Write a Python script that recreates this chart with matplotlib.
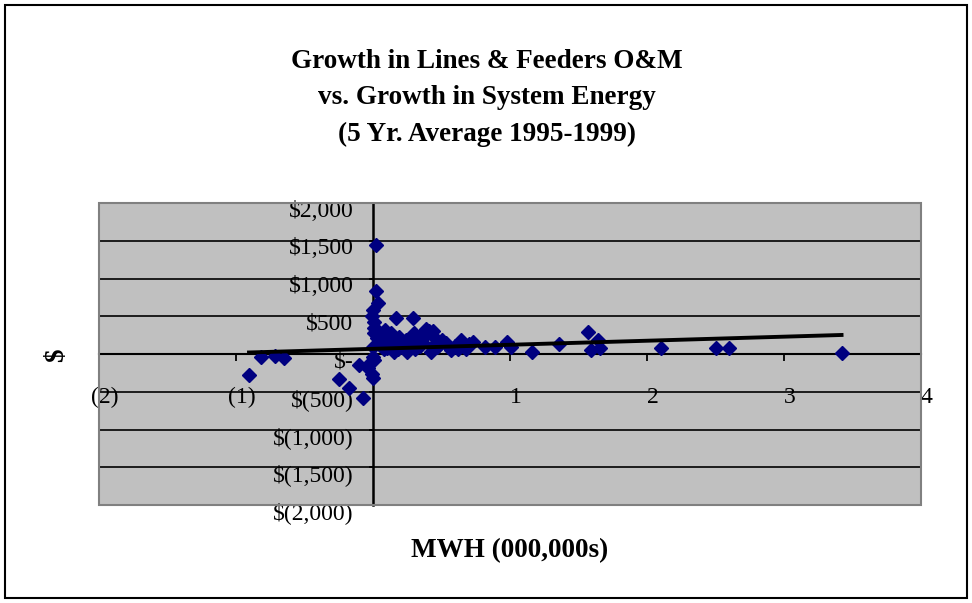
import matplotlib
matplotlib.use("Agg")
from matplotlib import pyplot as plt
from matplotlib.patches import Rectangle
from matplotlib.transforms import ScaledTranslation

# growth in system energy (MWH, 000,000s) vs growth in O&M ($)
mwh = [0.02, 0.02, 0.04, 0.00, -0.01, 0.01, 0.01, 0.01, 0.03, 0.04, 0.00,
       0.17, 0.29, 0.09, 0.13, 0.06, 0.30, 0.39, 0.44, 0.35, 0.20, 0.28,
       0.41, 0.50, 0.53, 0.64, 0.73, 0.15, 0.25, 0.42, 0.57, 0.82, 0.89,
       0.98, 1.01, 1.16, 1.36, 1.57, 1.64, 1.59, 1.66, 2.10, 2.50, 2.60,
       3.42, 0.05, 0.10, 0.22, 0.33, 0.47, 0.60, 0.68,
       0.04, 0.07, 0.12, 0.16, 0.19, 0.24, 0.27, 0.32, 0.36, 0.38, 0.45,
       0.08, 0.14, 0.18, 0.23, 0.31, 0.34, 0.43, 0.48, 0.55, 0.62, 0.70,
       -0.905, -0.82, -0.715, -0.65, -0.25, -0.175, -0.07, -0.10,
       -0.04, -0.01, 0.01, 0.00, -0.02, 0.00]
om = [1445, 835, 676, 583, 504, 424, 345, 278, 212, 146, 93,
      477, 477, 318, 278, 240, 278, 331, 305, 252, 186, 159,
      305, 186, 146, 186, 159, 27, 27, 27, 53, 93, 93,
      163, 93, 27, 133, 292, 186, 53, 80, 80, 80, 80,
      13, 120, 80, 100, 120, 90, 110, 60,
      300, 230, 200, 170, 220, 180, 130, 200, 160, 240, 210,
      60, 110, 70, 140, 60, 110, 90, 120, 100, 70, 130,
      -278, -40, -27, -53, -331, -451, -583, -146,
      -186, -265, -80, -40, -120, -320]

# linear trendline as drawn in the chart
trend_x = [-0.905, 3.42]
trend_y = [20, 252]

x_ticks = [-2, -1, 0, 1, 2, 3, 4]
x_labels = ["(2)", "(1)", "", "1", "2", "3", "4"]
y_ticks = [2000, 1500, 1000, 500, 0, -500, -1000, -1500, -2000]
y_labels = ["$2,000", "$1,500", "$1,000", "$500", "$-", "$(500)",
            "$(1,000)", "$(1,500)", "$(2,000)"]
title_lines = ["Growth in Lines & Feeders O&M",
               "vs. Growth in System Energy",
               "(5 Yr. Average 1995-1999)"]

plt.rcParams["font.family"] = ["Liberation Serif", "DejaVu Serif"]

fig = plt.figure(figsize=(9.72, 6.03), dpi=100)
fig.patches.append(Rectangle((5 / 972, 5 / 603), 962 / 972, 593 / 603,
                             transform=fig.transFigure, fill=False,
                             edgecolor="black", linewidth=1.5))

ax = fig.add_axes([99 / 972, 1 - 505 / 603, 822 / 972, 302 / 603])
ax.set_facecolor("#c0c0c0")
ax.set_xlim(-2, 4)
ax.set_ylim(-2000, 2000)

for s in ["top", "right"]:
    ax.spines[s].set_visible(False)
ax.spines["left"].set_position(("data", 0))
ax.spines["bottom"].set_position(("data", 0))
ax.spines["left"].set_linewidth(1.8)
ax.spines["bottom"].set_linewidth(1.5)
ax.add_patch(Rectangle((0, 0), 1, 1, transform=ax.transAxes, fill=False,
                       edgecolor="#808080", linewidth=1.5, zorder=5,
                       clip_on=False))

ax.set_axisbelow(True)
ax.yaxis.grid(True, color="black", linewidth=1.2)

ax.set_xticks(x_ticks)
ax.set_xticklabels(x_labels)
ax.set_yticks(y_ticks)
ax.set_yticklabels(y_labels)
ax.tick_params(axis="x", direction="out", length=5, width=1.3, pad=19,
               labelsize=17)
ax.tick_params(axis="y", direction="out", length=3, width=1.3, pad=11,
               labelsize=17)
# Excel draws the value labels a little below their gridline
shift = ScaledTranslation(0, -4 / 72, fig.dpi_scale_trans)
for lbl in ax.get_yticklabels():
    lbl.set_transform(lbl.get_transform() + shift)
shift_x = ScaledTranslation(4 / 72, 0, fig.dpi_scale_trans)
for lbl in ax.get_xticklabels():
    lbl.set_transform(lbl.get_transform() + shift_x)

ax.plot(mwh, om, linestyle="none", marker="D", markersize=7,
        color="#000080", zorder=3)
ax.plot(trend_x, trend_y, color="black", linewidth=2.8, zorder=4)

for i, line in enumerate(title_lines):
    fig.text(487 / 972, 1 - (61 + 36.5 * i) / 603, line, ha="center",
             va="center", fontsize=19.5, fontweight="bold")

fig.text(510 / 972, 1 - 551 / 603, "MWH (000,000s)", ha="center",
         va="center", fontsize=19.5, fontweight="bold")
fig.text(57 / 972, 1 - 355 / 603, "$", ha="center", va="center",
         rotation=90, fontsize=19.5, fontweight="bold")

fig.savefig("out.png", dpi=100)
